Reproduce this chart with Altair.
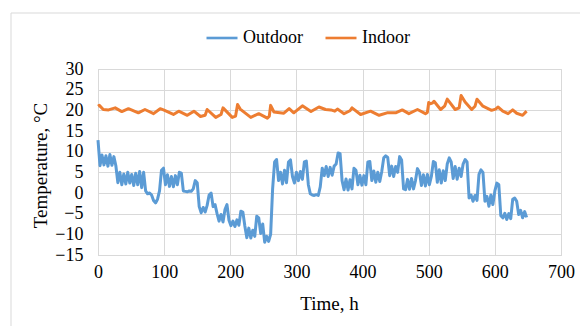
import altair as alt
import pandas as pd

# Outdoor temperature, sampled every 3 h (hours listed explicitly)
outdoor_h = [0, 3, 6, 9, 12, 15, 18, 21, 24, 27,
             30, 33, 36, 39, 42, 45, 48, 51, 54, 57, 60, 63, 66, 69, 72,
             75, 78, 81, 84, 87, 90, 93, 96, 99,
             102, 105, 108, 111, 114, 117, 120, 123, 126,
             129, 132, 135, 138, 141, 144, 147, 150,
             153, 156, 159, 162, 165, 168, 171, 174, 177,
             180, 183, 186, 189, 192, 195,
             198, 201, 204, 207, 210, 213, 216, 219, 222,
             225, 228, 231, 234, 237, 240, 243,
             246, 249, 252, 255, 258, 261,
             264, 267, 270, 273, 276, 279, 282, 285, 288, 291, 294, 297,
             300, 303, 306, 309, 312, 315, 318, 321, 324, 327, 330, 333,
             336, 339, 342, 345, 348, 351, 354, 357, 360, 363, 366, 369,
             372, 375, 378, 381, 384, 387, 390, 393, 396, 399, 402, 405,
             408, 411, 414, 417, 420, 423, 426, 429, 432, 435, 438, 441,
             444, 447, 450, 453, 456, 459, 462, 465, 468, 471, 474, 477,
             480, 483, 486, 489, 492, 495, 498, 501, 504, 507, 510, 513,
             516, 519, 522, 525, 528, 531, 534, 537, 540, 543, 546, 549,
             552, 555, 558, 561, 564, 567, 570, 573, 576, 579, 582, 585,
             588, 591, 594, 597, 600, 603, 606, 609, 612, 615, 618, 621,
             624, 627, 630, 633, 636, 639, 642, 645, 648]
outdoor_t = [12.8, 6.6, 9.2, 6.8, 9.0, 6.5, 9.3, 6.7, 8.8, 6.6,
             2.5, 5.0, 2.0, 4.6, 2.2, 5.0, 2.4, 4.5, 1.8, 4.8, 2.0, 5.2, 1.3, 5.0, 0.5,
             -0.2, 0.0, -0.5, -1.8, -2.4, -1.5, 0.5, 5.5, 6.0,
             2.0, 4.4, 1.6, 4.0, 1.5, 4.2, 2.0, 5.0, 4.8,
             0.5, 0.4, 0.3, 0.5, 0.4, 1.0, 3.0, 2.5,
             -3.3, -4.8, -3.5, -4.6, -3.0, -0.5, 0.0, -3.3, -2.8,
             -5.0, -6.8, -5.2, -7.0, -4.0, -2.8,
             -6.6, -7.9, -6.8, -8.1, -6.5, -7.8, -4.4, -4.6, -8.0,
             -10.8, -8.5, -10.9, -9.0, -10.5, -5.6, -6.0,
             -9.8, -7.5, -11.9, -10.5, -11.7, -10.0,
             1.0, 7.5, 8.1, 3.0, 5.0, 2.2, 5.5, 2.5, 7.5, 8.0, 4.0, 2.4,
             5.0, 3.0, 5.2, 3.3, 7.5, 7.7, 2.0, -0.2, -0.5, -0.6, -0.4, -0.6,
             1.5, 6.0, 4.2, 6.4, 4.0, 6.2, 4.3, 6.5, 7.0, 9.7, 9.5, 3.0,
             0.8, 3.4, 0.7, 3.2, 1.0, 6.0, 5.5, 2.0, 4.3, 1.9, 4.2, 2.0,
             7.5, 7.6, 3.0, 5.3, 2.6, 5.0, 2.8, 5.2, 8.5, 9.0, 8.6, 4.2,
             6.5, 4.0, 6.4, 5.0, 8.8, 8.0, 1.0, 0.8, 3.3, 0.9, 3.5, 1.0,
             3.0, 5.9, 5.0, 1.8, 4.4, 1.7, 4.5, 2.0, 4.0, 7.6, 7.3, 2.6,
             5.6, 2.4, 5.4, 3.0, 7.0, 8.5, 7.5, 3.5, 6.4, 3.3, 6.0, 4.0,
             7.0, 8.1, 7.5, -1.2, -0.5, -2.0, -0.6, -1.8, 4.5, 5.6, 5.0, -2.0,
             -0.8, -3.2, -0.5, -2.8, 0.5, 2.4, 2.0, -5.5, -6.0, -4.9, -6.4, -5.0,
             -6.2, -1.5, -1.2, -2.0, -5.2, -4.2, -6.0, -4.5, -5.9]

# Indoor temperature (turning points of the daily cycle)
indoor_h = [0, 2, 8, 16, 26, 36, 46, 61, 71, 84, 94, 99, 114, 122, 135, 145,
            155, 162, 165, 178, 186, 189, 203, 208, 211, 215, 231, 243, 256,
            259, 261, 266, 281, 289, 296, 309, 322, 334, 344, 352, 358, 362,
            372, 381, 384, 397, 412, 425, 437, 450, 460, 470, 483, 495, 498,
            500, 503, 506, 508, 518, 524, 528, 540, 546, 549, 555, 565, 570,
            573, 582, 595, 601, 605, 612, 620, 627, 633, 642, 648]
indoor_t = [21.0, 21.2, 20.2, 20.1, 20.6, 19.7, 20.4, 19.4, 20.2, 19.2, 20.4,
            20.1, 19.0, 19.8, 18.8, 19.8, 18.5, 18.8, 20.2, 18.3, 19.0, 20.6,
            18.3, 18.6, 21.4, 20.3, 18.3, 19.2, 18.1, 18.6, 21.2, 19.6, 19.3,
            20.4, 19.4, 21.1, 19.7, 20.8, 20.2, 20.1, 19.8, 20.3, 19.2, 19.9,
            20.6, 19.0, 19.8, 18.8, 19.4, 19.4, 20.1, 19.2, 20.2, 19.2, 19.5,
            21.9, 21.6, 21.8, 22.2, 20.2, 21.0, 22.7, 20.2, 20.6, 23.6, 22.0,
            20.2, 21.0, 22.7, 21.0, 20.0, 20.3, 20.8, 19.8, 19.2, 20.1, 19.3,
            18.8, 19.8]

series_names = ["Outdoor", "Indoor"]
series_colors = ["#5B9BD5", "#ED7D31"]
x_ticks = [0, 100, 200, 300, 400, 500, 600, 700]
y_ticks = [-15, -10, -5, 0, 5, 10, 15, 20, 25, 30]

df = pd.concat([
    pd.DataFrame({"h": outdoor_h, "t": outdoor_t, "s": "Outdoor"}),
    pd.DataFrame({"h": indoor_h, "t": indoor_t, "s": "Indoor"}),
])

FONT = "Liberation Serif"
GRID = "#d9d9d9"

lines = alt.Chart(df).mark_line(strokeWidth=3, strokeJoin="round").encode(
    x=alt.X("h:Q", scale=alt.Scale(domain=[0, 700], nice=False),
            axis=alt.Axis(values=x_ticks, title="Time, h", grid=True,
                          ticks=False, tickSize=0, labelPadding=8,
                          labelFlush=False, labelOverlap=False,
                          titleX=231, titleY=48, titleBaseline="middle",
                          labelFontSize=18, titleFontSize=19)),
    y=alt.Y("t:Q", scale=alt.Scale(domain=[-15, 30], nice=False),
            axis=alt.Axis(values=y_ticks, title="Temperature, °C", grid=True,
                          ticks=False, tickSize=0, labelPadding=15,
                          labelFlush=False, labelOverlap=False,
                          titleX=-58, titleY=96, titleBaseline="middle",
                          labelFontSize=18, titleFontSize=19)),
    color=alt.Color("s:N", scale=alt.Scale(domain=series_names, range=series_colors),
                    sort=series_names,
                    legend=alt.Legend(title=None, orient="none", direction="horizontal",
                                      legendX=107, legendY=-48,
                                      symbolType="stroke", symbolSize=961,
                                      symbolStrokeWidth=2.6, labelOffset=4,
                                      columnPadding=17, labelFontSize=18,
                                      labelFont=FONT, labelColor="#000000")),
    detail="s:N",
    order="h:Q",
)

border = alt.Chart(alt.Data(values=[{}])).mark_rect(
    fillOpacity=0, stroke=GRID, strokeWidth=1
).encode(x=alt.value(-87), x2=alt.value(500), y=alt.value(-56), y2=alt.value(300))

chart = alt.layer(border, lines).properties(
    width=463, height=186,
    padding={"left": 98, "top": 69, "right": 19, "bottom": 71},
    autosize=alt.AutoSizeParams(type="none"),
    background="white",
).configure(
    font=FONT,
).configure_axis(
    labelFont=FONT, titleFont=FONT, labelColor="#000000", titleColor="#000000",
    titleFontWeight="normal", gridColor=GRID, domainColor=GRID, gridWidth=1,
).configure_legend(
    labelFont=FONT, labelFontSize=18, labelColor="#000000",
).configure_view(stroke=GRID)

chart.save("out.html", embed_options={"renderer": "svg", "actions": False})
